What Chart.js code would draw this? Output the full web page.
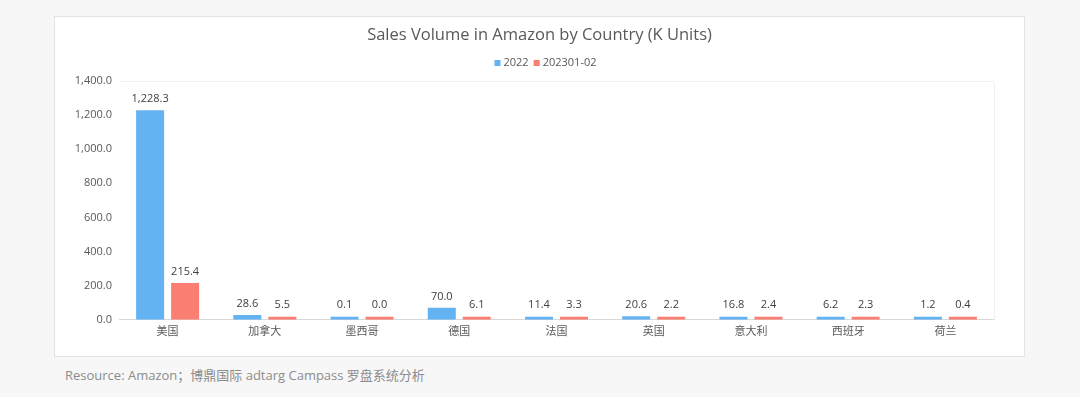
<!DOCTYPE html>
<html>
<head>
<meta charset="utf-8">
<script src="https://cdn.jsdelivr.net/npm/chart.js@4"></script>
<style>
  html, body { margin: 0; padding: 0; background: #f7f7f7; }
  body { width: 1080px; height: 397px; position: relative; overflow: hidden;
    font-family: "Open Sans", "Noto Sans CJK SC", sans-serif; }
  .card { position: absolute; left: 54px; top: 16px; width: 969px; height: 339px;
    background: #fff; border: 1px solid #e3e3e3; }
  .card canvas { display: block; }
  .note { position: absolute; left: 65px; top: 365px; font-size: 13px; color: #8c8c8c; }
</style>
</head>
<body>
<div class="card"><canvas id="salesChart" width="969" height="339"></canvas></div>
<div class="note">Resource: Amazon；博鼎国际 adtarg Campass 罗盘系统分析</div>
<script>
// data
const countries = ["美国", "加拿大", "墨西哥", "德国", "法国", "英国", "意大利", "西班牙", "荷兰"];
const sales2022 = [1228.3, 28.6, 0.1, 70.0, 11.4, 20.6, 16.8, 6.2, 1.2];
const sales2023 = [215.4, 5.5, 0.0, 6.1, 3.3, 2.2, 2.4, 2.3, 0.4];
const yTicks = [0, 200, 400, 600, 800, 1000, 1200, 1400];
const chartTitle = "Sales Volume in Amazon by Country (K Units)";

const fmt = (v) => v.toLocaleString("en-US", { minimumFractionDigits: 1, maximumFractionDigits: 1 });
const fontFamily = "'Open Sans', 'Noto Sans CJK SC', sans-serif";

// value labels above bars
const barLabels = {
  id: "barLabels",
  afterDatasetsDraw(chart) {
    const ctx = chart.ctx;
    ctx.save();
    ctx.font = "11px " + fontFamily;
    ctx.fillStyle = "#404040";
    ctx.textAlign = "center";
    ctx.textBaseline = "bottom";
    chart.data.datasets.forEach((ds, i) => {
      chart.getDatasetMeta(i).data.forEach((bar, j) => {
        ctx.fillText(fmt(ds.data[j]), bar.x, bar.y - 6);
      });
    });
    ctx.restore();
  },
};

// title + compact legend, centred on the card
const header = {
  id: "header",
  afterDraw(chart) {
    const ctx = chart.ctx;
    const cx = chart.width / 2;
    ctx.save();
    ctx.font = "16.5px " + fontFamily;
    ctx.fillStyle = "#595959";
    ctx.textAlign = "center";
    ctx.textBaseline = "middle";
    ctx.fillText(chartTitle, cx, 18);

    ctx.font = "11px " + fontFamily;
    ctx.textAlign = "left";
    const box = 6, gapText = 3, gapItem = 5;
    const items = chart.data.datasets.map((ds) => ({
      label: ds.label, color: ds.backgroundColor, w: ctx.measureText(ds.label).width,
    }));
    let total = 0;
    items.forEach((it, i) => { total += box + gapText + it.w + (i ? gapItem : 0); });
    let x = cx + 6 - total / 2;
    const y = 46;
    items.forEach((it) => {
      ctx.fillStyle = it.color;
      ctx.fillRect(x, y - box / 2, box, box);
      x += box + gapText;
      ctx.fillStyle = "#595959";
      ctx.fillText(it.label, x, y);
      x += it.w + gapItem;
    });
    ctx.restore();
  },
};

// light frame round the plot area
const plotFrame = {
  id: "plotFrame",
  beforeDatasetsDraw(chart) {
    const { ctx, chartArea: a } = chart;
    ctx.save();
    ctx.strokeStyle = "#f0f0f0";
    ctx.lineWidth = 1;
    ctx.beginPath();
    ctx.moveTo(a.left, a.top + 0.5);
    ctx.lineTo(a.right + 0.5, a.top + 0.5);
    ctx.lineTo(a.right + 0.5, a.bottom);
    ctx.stroke();
    ctx.restore();
  },
};

const ctx = document.getElementById("salesChart").getContext("2d");
new Chart(ctx, {
  type: "bar",
  data: {
    labels: countries,
    datasets: [
      {
        label: "2022",
        data: sales2022,
        backgroundColor: "#63b2f2",
        categoryPercentage: 0.72,
        barPercentage: 0.8,
        minBarLength: 3,
      },
      {
        label: "202301-02",
        data: sales2023,
        backgroundColor: "#fa7f72",
        categoryPercentage: 0.72,
        barPercentage: 0.8,
        minBarLength: 3,
      },
    ],
  },
  options: {
    responsive: false,
    animation: false,
    layout: { padding: { left: 0, right: 30, top: 64, bottom: 13 } },
    plugins: {
      title: { display: false },
      legend: { display: false },
      tooltip: { enabled: false },
    },
    scales: {
      y: {
        min: 0,
        max: 1400,
        afterBuildTicks: (scale) => { scale.ticks = yTicks.map((v) => ({ value: v })); },
        afterFit: (scale) => { scale.width = 64; },
        grid: { display: false, drawTicks: false },
        border: { display: false },
        ticks: {
          color: "#595959",
          font: { family: fontFamily, size: 11 },
          padding: 7,
          callback: (v) => fmt(v),
        },
      },
      x: {
        grid: { display: false, drawTicks: false },
        border: { color: "#d9d9d9" },
        ticks: {
          color: "#595959",
          font: { family: fontFamily, size: 11 },
          padding: 5,
        },
      },
    },
  },
  plugins: [barLabels, header, plotFrame],
});
</script>
</body>
</html>
